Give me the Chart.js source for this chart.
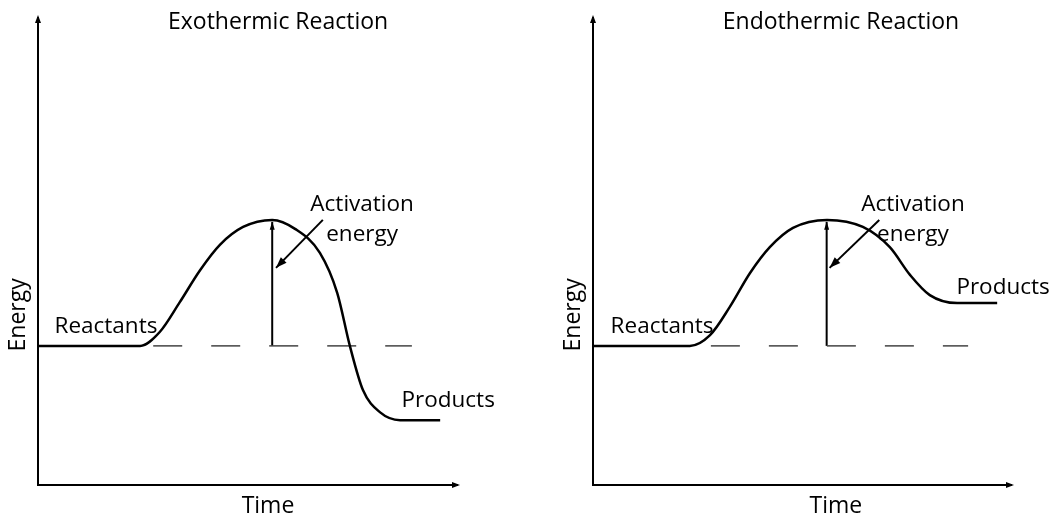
<!DOCTYPE html>
<html>
<head>
<meta charset="utf-8">
<script src="https://cdn.jsdelivr.net/npm/chart.js@4"></script>
<style>
  body { margin: 0; background: #fff; }
  #wrap { position: relative; width: 1050px; height: 515px; }
  .panel { position: absolute; top: 0; width: 525px; height: 515px; }
</style>
</head>
<body>
<div id="wrap">
  <div class="panel" style="left:0"><canvas id="exoChart"></canvas></div>
  <div class="panel" style="left:525px"><canvas id="endoChart"></canvas></div>
</div>
<script>
// Energy profiles (time 0-100, energy 0-100)
const exoTime   = [0, 24.2, 28.9, 33.6, 38.4, 43.1, 48.6, 55.5, 60.9, 66.8, 70.9, 73.9, 77.0, 81.0, 85.8, 95.3];
const exoEnergy = [29.6, 29.6, 32.6, 38.9, 45.7, 51.1, 54.9, 56.4, 54.5, 49.4, 40.9, 29.6, 20.2, 15.5, 13.8, 13.8];

const endoTime   = [0, 23.0, 27.8, 32.5, 37.3, 42.0, 47.5, 55.6, 64.1, 70.5, 75.3, 80.0, 86.5, 96.0];
const endoEnergy = [29.6, 29.6, 31.9, 37.9, 45.1, 50.6, 54.7, 56.4, 54.9, 50.6, 44.7, 40.4, 38.7, 38.7];

// reactant level guide and activation-energy arrows
const reactantLevel = 29.6;
const exoGuide  = [27.3, 88.6];
const endoGuide = [28.0, 89.1];
const peakTime = 55.5;
const peakArrowTop = 56.0;
const exoPointer  = [[67.5, 56.4], [56.4, 46.2]];
const endoPointer = [[68.0, 56.4], [56.2, 46.2]];

// text labels
const labelTexts = ['Reactants', 'Activation', 'energy', 'Products'];
const exoLabelX  = [16.1, 76.8, 76.8, 97.2];
const exoLabelY  = [33.8, 59.6, 53.2, 17.9];
const endoLabelX = [16.4, 76.0, 76.0, 97.4];
const endoLabelY = [33.8, 59.6, 53.2, 42.1];

const FONT = '"Open Sans", "Noto Sans", sans-serif';

function arrowHead(ctx, x0, y0, x1, y1, len, half) {
    const a = Math.atan2(y1 - y0, x1 - x0);
    ctx.beginPath();
    ctx.moveTo(x1, y1);
    ctx.lineTo(x1 - len * Math.cos(a) + half * Math.sin(a), y1 - len * Math.sin(a) - half * Math.cos(a));
    ctx.lineTo(x1 - len * Math.cos(a) - half * Math.sin(a), y1 - len * Math.sin(a) + half * Math.cos(a));
    ctx.closePath();
    ctx.fill();
}

// axes with arrows, arrowheads on the pointer lines, and all text
const decorPlugin = {
    id: 'decor',
    afterDraw(chart, args, opts) {
        const ctx = chart.ctx;
        const xs = chart.scales.x, ys = chart.scales.y;
        const area = chart.chartArea;
        ctx.save();
        ctx.strokeStyle = '#000';
        ctx.fillStyle = '#000';

        // axes
        ctx.lineWidth = 2;
        ctx.beginPath();
        ctx.moveTo(area.left, area.top + 2);
        ctx.lineTo(area.left, area.bottom);
        ctx.lineTo(area.right - 2, area.bottom);
        ctx.stroke();
        arrowHead(ctx, area.left, area.bottom, area.left, area.top, 8, 3);
        arrowHead(ctx, area.left, area.bottom, area.right, area.bottom, 8, 3);

        // arrowheads at the end of the two arrow datasets
        [2, 3].forEach((i, k) => {
            const pts = chart.getDatasetMeta(i).data;
            const p0 = pts[0], p1 = pts[1];
            if (k === 0) arrowHead(ctx, p0.x, p0.y, p1.x, p1.y, 8, 2.5);
            else arrowHead(ctx, p0.x, p0.y, p1.x, p1.y, 11, 4);
        });

        // labels
        ctx.font = '22.5px ' + FONT;
        ctx.textAlign = 'center';
        ctx.textBaseline = 'middle';
        labelTexts.forEach((t, i) => {
            ctx.fillText(t, xs.getPixelForValue(opts.lx[i]), ys.getPixelForValue(opts.ly[i]));
        });

        // title and axis titles
        ctx.font = '23px ' + FONT;
        ctx.fillText(opts.title, xs.getPixelForValue(opts.titleX), area.top + 7);
        ctx.fillText('Time', xs.getPixelForValue(opts.timeX), area.bottom + 21);
        ctx.translate(area.left - 20, ys.getPixelForValue(36.2));
        ctx.rotate(-Math.PI / 2);
        ctx.fillText('Energy', 0, 0);
        ctx.restore();
    }
};

function makeChart(id, times, energies, guide, pointer, lx, ly, title, titleX, timeX, pad) {
    const ctx = document.getElementById(id).getContext('2d');
    return new Chart(ctx, {
        type: 'line',
        data: {
            datasets: [{
                data: times.map((t, i) => ({ x: t, y: energies[i] })),
                borderColor: '#000',
                borderWidth: 2.5,
                cubicInterpolationMode: 'monotone',
                pointRadius: 0,
                fill: false
            }, {
                data: guide.map(t => ({ x: t, y: reactantLevel })),
                borderColor: '#444',
                borderWidth: 1.5,
                borderDash: [29, 29],
                pointRadius: 0
            }, {
                data: [{ x: peakTime, y: reactantLevel }, { x: peakTime, y: peakArrowTop }],
                borderColor: '#000',
                borderWidth: 2,
                pointRadius: 0
            }, {
                data: pointer.map(p => ({ x: p[0], y: p[1] })),
                borderColor: '#000',
                borderWidth: 2,
                pointRadius: 0
            }]
        },
        options: {
            responsive: true,
            maintainAspectRatio: false,
            animation: false,
            layout: { padding: pad },
            plugins: {
                legend: { display: false },
                tooltip: { enabled: false },
                decor: { lx: lx, ly: ly, title: title, titleX: titleX, timeX: timeX }
            },
            scales: {
                x: {
                    type: 'linear', min: 0, max: 100,
                    grid: { display: false }, border: { display: false },
                    ticks: { display: false },
                    afterFit(s) { s.height = 0; }
                },
                y: {
                    min: 0, max: 100,
                    grid: { display: false }, border: { display: false },
                    ticks: { display: false },
                    afterFit(s) { s.width = 0; }
                }
            }
        },
        plugins: [decorPlugin]
    });
}

document.addEventListener('DOMContentLoaded', function() {
    makeChart('exoChart', exoTime, exoEnergy, exoGuide, exoPointer, exoLabelX, exoLabelY,
        'Exothermic Reaction', 56.9, 54.5, { left: 38, top: 15, right: 65, bottom: 30 });
    makeChart('endoChart', endoTime, endoEnergy, endoGuide, endoPointer, endoLabelX, endoLabelY,
        'Endothermic Reaction', 58.9, 57.7, { left: 68, top: 15, right: 36, bottom: 30 });
});
</script>
</body>
</html>
